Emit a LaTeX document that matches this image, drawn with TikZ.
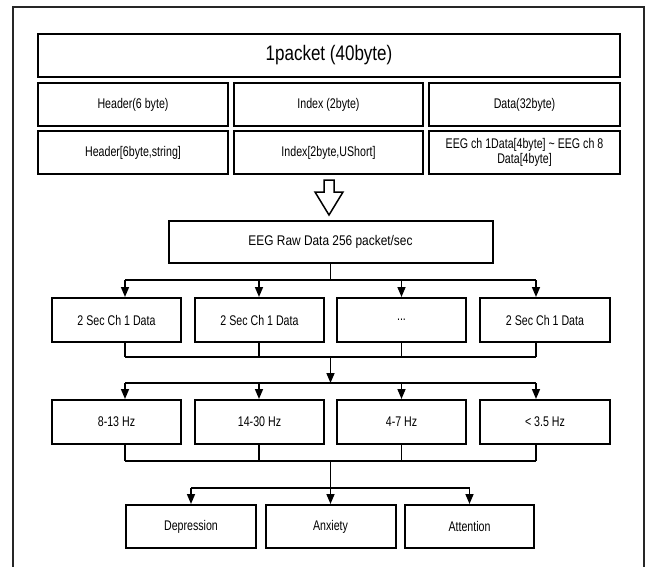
\documentclass[tikz,border=0pt]{standalone}
\usepackage{fontspec}
\setmainfont{Liberation Sans}
\newfontfamily\condfont{Liberation Sans}[FakeStretch=0.76]
\newfontfamily\rawfont{Liberation Sans}[FakeStretch=0.85]
\newfontfamily\titlefont{Liberation Sans}[FakeStretch=0.81]
\usetikzlibrary{arrows.meta}
\tikzset{
	pbox/.style={draw, line width=2pt, inner sep=0pt, minimum height=43pt, align=center, font=\condfont\fontsize{14}{15.5}\selectfont},
	link/.style={line width=1.6pt},
	arr/.style={link, -{Triangle[width=8pt,length=10pt]}}
}
\begin{document}
\begin{tikzpicture}[x=1pt,y=-1pt]
	\useasboundingbox (0,0) rectangle (648,567);
	\draw[line width=1.5pt, black!85] (13,575) -- (13,7) -- (644,7) -- (644,575);
	
	\node[pbox, minimum width=582pt, font=\titlefont\fontsize{21}{24}\selectfont] (packet) at (329,55.5) {1packet (40byte)};
	\node[pbox, minimum width=190pt] (header) at (133,104.5) {Header(6 byte)};
	\node[pbox, minimum width=189pt] (index) at (328.5,104.5) {Index (2byte)};
	\node[pbox, minimum width=191pt] (data) at (524.5,104.5) {Data(32byte)};
	\node[pbox, minimum width=190pt] (headerfmt) at (133,152.5) {Header[6byte,string]};
	\node[pbox, minimum width=189pt] (indexfmt) at (328.5,152.5) {Index[2byte,UShort]};
	\node[pbox, minimum width=191pt] (datafmt) at (524.5,152.5) {EEG ch 1Data[4byte] \textasciitilde{} EEG ch 8\\Data[4byte]};
	
	\draw[line width=1.5pt, fill=white] (324,180) -- (334,180) -- (334,192) -- (343,192) -- (329,215) -- (315,192) -- (324,192) -- cycle;
	
	\node[pbox, minimum width=324pt, minimum height=42pt, font=\rawfont\fontsize{14}{16}\selectfont] (raw) at (330.5,242) {EEG Raw Data 256 packet/sec};
	
	\node[pbox, minimum width=129pt, minimum height=44pt] (sec1) at (116.5,320) {2 Sec Ch 1 Data};
	\node[pbox, minimum width=129pt, minimum height=44pt] (sec2) at (259.5,320) {2 Sec Ch 1 Data};
	\node[pbox, minimum width=129pt, minimum height=44pt] (sec3) at (401.5,320) {...};
	\node[pbox, minimum width=130pt, minimum height=44pt] (sec4) at (545,320) {2 Sec Ch 1 Data};
	
	\node[pbox, minimum width=129pt, minimum height=44pt] (band1) at (116.5,422) {8-13 Hz};
	\node[pbox, minimum width=129pt, minimum height=44pt] (band2) at (259.5,422) {14-30 Hz};
	\node[pbox, minimum width=129pt, minimum height=44pt] (band3) at (401.5,422) {4-7 Hz};
	\node[pbox, minimum width=130pt, minimum height=44pt] (band4) at (545,422) {< 3.5 Hz};
	
	\node[pbox, minimum width=130pt] (dep) at (191,526.5) {Depression};
	\node[pbox, minimum width=130pt] (anx) at (330.5,526.5) {Anxiety};
	\node[pbox, minimum width=129pt] (att) at (469.5,526.5) {Attention};
	
	\foreach \i/\x in {1/125,2/259,3/401.5,4/536}{
		\coordinate (ta\i) at (\x,280);
		\coordinate (ma\i) at (\x,357);
		\coordinate (tb\i) at (\x,383);
		\coordinate (mb\i) at (\x,461);
	}
	\coordinate (split) at (330.5,488);
	
	\draw[link] (raw.south) -- (raw.south |- ta1);
	\draw[link] (ta1) -- (ta4);
	\draw[link] (ma1) -- (ma4);
	\draw[link] (tb1) -- (tb4);
	\draw[link] (mb1) -- (mb4);
	\foreach \i in {1,...,4}{
		\draw[arr] (ta\i) -- (ta\i |- sec\i.north);
		\draw[link] (ta\i |- sec\i.south) -- (ma\i);
		\draw[arr] (tb\i) -- (tb\i |- band\i.north);
		\draw[link] (tb\i |- band\i.south) -- (mb\i);
	}
	\draw[arr] (raw.south |- ma1) -- (raw.south |- tb1);
	
	\draw[arr] (anx.north |- mb1) -- (anx.north);
	\draw[link] (dep.north |- split) -- (att.north |- split);
	\draw[arr] (dep.north |- split) -- (dep.north);
	\draw[arr] (att.north |- split) -- (att.north);
\end{tikzpicture}
\end{document}
